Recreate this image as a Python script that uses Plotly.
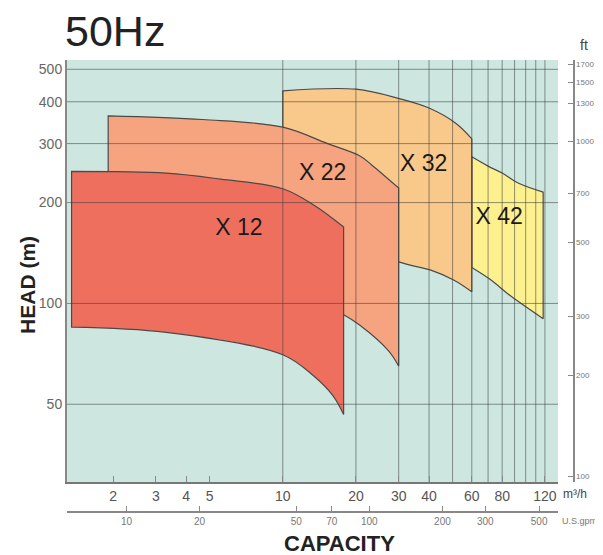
import math
import plotly.graph_objects as go

# ---- data: operating ranges (capacity m3/h, head m) ----
x42_top_q = [60, 70, 80, 94, 118]
x42_top_h = [274, 257, 245, 228, 215]
x42_bot_q = [60, 71.3, 87.4, 118]
x42_bot_h = [128, 118, 104.8, 90]

x32_top_q = [10, 20, 30.4, 40, 51.5, 60]
x32_top_h = [431, 436, 408, 383, 345, 310]
x32_bot_q = [10, 17.8, 30, 40.7, 50.5, 60]
x32_bot_h = [174, 157, 133, 125.7, 117.5, 108.4]

x22_top_q = [1.91, 4.67, 10, 15.3, 20.7, 23.1, 30]
x22_top_h = [363, 354, 336, 300, 276, 260, 221]
x22_bot_q = [1.91, 10, 17.8, 20.7, 27.2, 30]
x22_bot_h = [133, 112, 92.5, 86.2, 72.3, 65]

x12_top_q = [1.35, 3.31, 5.55, 10, 13.5, 17.8]
x12_top_h = [248, 245, 235, 220, 196, 169]
x12_bot_q = [1.35, 3.31, 10, 13.3, 16.1, 17.8]
x12_bot_h = [85, 82, 70.3, 61, 53, 46.6]

model_names = ["X 42", "X 32", "X 22", "X 12"]
label_q = [77.8, 38, 14.6, 6.6]
label_h = [180, 258, 243, 167]

x_ticks = [2, 3, 4, 5, 10, 20, 30, 40, 60, 80, 120]
grid_q = [10, 20, 30, 40, 50, 60, 70, 80, 90, 100, 110, 120]
y_ticks = [50, 100, 200, 300, 400, 500]
ft_ticks = [100, 200, 300, 500, 700, 1000, 1300, 1500, 1700]
gpm_ticks = [10, 20, 50, 70, 100, 200, 300, 500]

M3H_TO_GPM = 4.4029
M_TO_FT = 3.28084

# ---- styling ----
fills = ["#fdf08e", "#f9c98b", "#f6a37f", "#ef6f5f"]
xr = [0.1115, 2.133]
yr = [1.4669, 2.7267]

outlines = [
    (x42_top_q, x42_top_h, x42_bot_q, x42_bot_h),
    (x32_top_q, x32_top_h, x32_bot_q, x32_bot_h),
    (x22_top_q, x22_top_h, x22_bot_q, x22_bot_h),
    (x12_top_q, x12_top_h, x12_bot_q, x12_bot_h),
]

fig = go.Figure()
for (tq, th, bq, bh), col in zip(outlines, fills):
    # corners repeated so the spline keeps them sharp
    xs = [tq[0]] + tq + [tq[-1]] + [bq[-1]] + bq[::-1] + [bq[0]] + [tq[0]]
    ys = [th[0]] + th + [th[-1]] + [bh[-1]] + bh[::-1] + [bh[0]] + [th[0]]
    fig.add_trace(go.Scatter(x=xs, y=ys, mode="lines", fill="toself",
                             fillcolor=col,
                             line=dict(color="#4a4a4a", width=1.2, shape="spline",
                                       smoothing=1, simplify=False),
                             hoverinfo="skip", showlegend=False))

# grid lines drawn above the fills
ylo, yhi = 10 ** yr[0], 10 ** yr[1]
xlo, xhi = 10 ** xr[0], 10 ** xr[1]
gx, gy = [], []
for q in grid_q:
    gx += [q, q, None]
    gy += [ylo, yhi, None]
for h in y_ticks:
    gx += [xlo, xhi, None]
    gy += [h, h, None]
fig.add_trace(go.Scatter(x=gx, y=gy, mode="lines",
                         line=dict(color="rgba(60,60,60,0.55)", width=1),
                         hoverinfo="skip", showlegend=False))

fig.add_trace(go.Scatter(x=label_q, y=label_h, mode="text", text=model_names,
                         textposition="middle center",
                         textfont=dict(size=23, color="#1a1a1a",
                                       family="Liberation Sans, Arial, sans-serif"),
                         hoverinfo="skip", showlegend=False))

# invisible trace so the secondary (U.S.gpm / ft) axes get drawn
fig.add_trace(go.Scatter(x=[gpm_ticks[0]], y=[ft_ticks[0]], xaxis="x2", yaxis="y2",
                         mode="markers", marker=dict(opacity=0),
                         hoverinfo="skip", showlegend=False))

g = math.log10(M3H_TO_GPM)
f = math.log10(M_TO_FT)

fig.update_layout(
    width=595, height=547,
    margin=dict(l=59, r=21, t=52, b=35, autoexpand=False),
    paper_bgcolor="white", plot_bgcolor="#cde7e0",
    font=dict(family="Liberation Sans, Arial, sans-serif"),
    xaxis=dict(type="log", range=xr, domain=[0, 491 / 515], automargin=False,
               tickvals=x_ticks, ticktext=[str(v) for v in x_ticks],
               ticks="inside", ticklen=6, tickcolor="#888",
               showgrid=False, zeroline=False, showline=True,
               linecolor="#777", linewidth=2,
               tickfont=dict(size=14, color="#555")),
    yaxis=dict(type="log", range=yr, domain=[38 / 460, 1], automargin=False,
               tickvals=y_ticks, ticktext=[str(v) for v in y_ticks],
               ticks="", showgrid=False, zeroline=False, showline=True,
               linecolor="#888", linewidth=2,
               tickfont=dict(size=14, color="#666")),
    xaxis2=dict(type="log", overlaying="x", anchor="free", position=8 / 460,
                side="bottom", range=[xr[0] + g, xr[1] + g], automargin=False,
                tickvals=gpm_ticks, ticktext=[str(v) for v in gpm_ticks],
                ticks="inside", ticklen=5, tickcolor="#888",
                showline=True, linecolor="#888", linewidth=2, showgrid=False,
                zeroline=False, tickfont=dict(size=10, color="#777")),
    yaxis2=dict(type="log", overlaying="y", anchor="free", position=0.984,
                side="right", range=[yr[0] + f, yr[1] + f], automargin=False,
                tickvals=ft_ticks, ticktext=[str(v) for v in ft_ticks],
                ticks="inside", ticklen=5, tickcolor="#888",
                showline=True, linecolor="#888", linewidth=1.5, showgrid=False,
                zeroline=False, tickfont=dict(size=8, color="#777")),
    annotations=[
        dict(text="50Hz", xref="paper", yref="paper", x=-0.008, y=1.062,
             xanchor="left", yanchor="middle", showarrow=False,
             font=dict(size=43, color="#222")),
        dict(text="<b>HEAD (m)</b>", xref="paper", yref="paper", x=-0.0757, y=0.511,
             textangle=-90, xanchor="center", yanchor="middle", showarrow=False,
             font=dict(size=21, color="#222")),
        dict(text="<b>CAPACITY</b>", xref="paper", yref="paper", x=0.53, y=-0.05,
             xanchor="center", yanchor="middle", showarrow=False,
             font=dict(size=22, color="#222")),
        dict(text="m³/h", xref="paper", yref="paper", x=0.986, y=0.0565,
             xanchor="center", yanchor="middle", showarrow=False,
             font=dict(size=12, color="#444")),
        dict(text="U.S.gpm", xref="paper", yref="paper", x=1.033, y=-0.002,
             xanchor="right", yanchor="middle", showarrow=False,
             font=dict(size=9, color="#777")),
        dict(text="ft", xref="paper", yref="paper", x=1.004, y=1.0326,
             xanchor="center", yanchor="middle", showarrow=False,
             font=dict(size=14, color="#444")),
    ],
)

fig.write_html("out.html")
